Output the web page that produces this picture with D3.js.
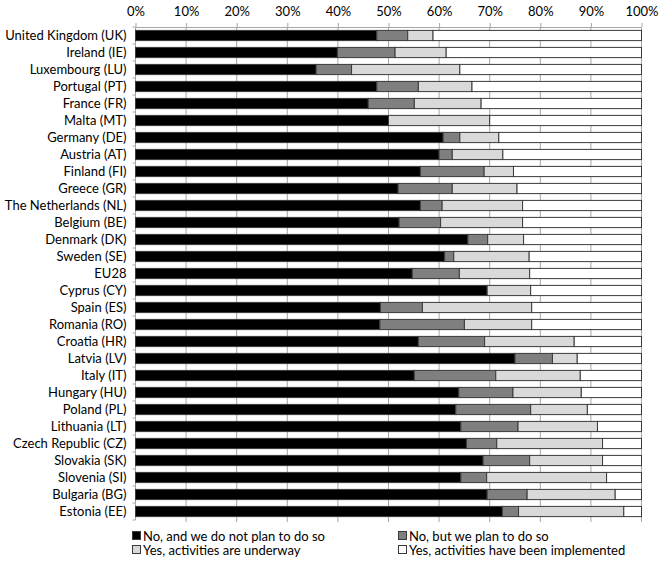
<!DOCTYPE html>
<html>
<head>
<meta charset="utf-8">
<script src="https://cdn.jsdelivr.net/npm/d3@7"></script>
<style>
  body { margin: 0; background: #fff; }
  text { font-family: Lato, sans-serif; fill: #000; }
</style>
</head>
<body>
<div class="canvas"></div>
<script>
// countries, top to bottom
const countries = ['United Kingdom (UK)', 'Ireland (IE)', 'Luxembourg (LU)', 'Portugal (PT)', 'France (FR)',
  'Malta (MT)', 'Germany (DE)', 'Austria (AT)', 'Finland (FI)', 'Greece (GR)', 'The Netherlands (NL)',
  'Belgium (BE)', 'Denmark (DK)', 'Sweden (SE)', 'EU28', 'Cyprus (CY)', 'Spain (ES)', 'Romania (RO)',
  'Croatia (HR)', 'Latvia (LV)', 'Italy (IT)', 'Hungary (HU)', 'Poland (PL)', 'Lithuania (LT)',
  'Czech Republic (CZ)', 'Slovakia (SK)', 'Slovenia (SI)', 'Bulgaria (BG)', 'Estonia (EE)'];

// shares in %, one value per country
const noNoPlan = [47.7, 39.9, 35.7, 47.7, 46.0, 50.0, 60.8, 60.0, 56.3, 51.9, 56.3, 52.1, 65.7, 61.1, 54.7,
  69.5, 48.4, 48.3, 55.9, 75.0, 55.1, 63.9, 63.3, 64.3, 65.4, 68.7, 64.3, 69.5, 72.5];
const noButPlan = [6.1, 11.4, 7.0, 8.2, 9.1, 0, 3.3, 2.6, 12.6, 10.7, 4.3, 8.2, 3.9, 1.8, 9.3,
  0, 8.3, 16.7, 13.1, 7.4, 16.1, 10.7, 14.8, 11.3, 6.0, 9.2, 5.1, 7.9, 3.2];
const underway = [5.0, 10.1, 21.4, 10.6, 13.2, 20.0, 7.7, 10.0, 5.8, 12.8, 15.9, 16.2, 7.1, 14.9, 13.9,
  8.6, 21.6, 13.3, 17.7, 4.9, 16.7, 13.5, 11.2, 15.7, 20.9, 14.4, 23.7, 17.4, 20.8];
const xTicks = [0, 10, 20, 30, 40, 50, 60, 70, 80, 90, 100];

const seriesNames = ['No, and we do not plan to do so', 'No, but we plan to do so',
  'Yes, activities are underway', 'Yes, activities have been implemented'];
const colours = ['#000000', '#7f7f7f', '#d9d9d9', '#ffffff'];

const data = countries.map((c, i) => ({
  country: c,
  a: noNoPlan[i],
  b: noButPlan[i],
  c: underway[i],
  d: 100 - noNoPlan[i] - noButPlan[i] - underway[i]
}));

const svg = d3.select('.canvas')
  .append('svg')
    .attr('width', 660)
    .attr('height', 568);

const margin = {top: 27, left: 135.5};
const graphWidth = 506;
const graphHeight = 17 * countries.length;

const graph = svg.append('g')
  .attr('transform', `translate(${margin.left}, ${margin.top})`);

const x = d3.scaleLinear().domain([0, 100]).range([0, graphWidth]);
const y = d3.scaleBand().domain(countries).range([0, graphHeight]).paddingInner(0.4).paddingOuter(0.2);

// vertical gridlines
graph.append('g').selectAll('line')
  .data(xTicks.slice(1))
  .enter().append('line')
    .attr('x1', d => x(d)).attr('x2', d => x(d))
    .attr('y1', 0).attr('y2', graphHeight + 2)
    .attr('stroke', '#a6a6a6')
    .attr('stroke-width', 1);

// top axis
const xAxisGroup = graph.append('g');
xAxisGroup.call(d3.axisTop(x).tickValues(xTicks).tickFormat(d => d + '%').tickSize(4).tickSizeOuter(0));
xAxisGroup.select('.domain').attr('stroke', '#a6a6a6');
xAxisGroup.selectAll('.tick line').attr('stroke', '#a6a6a6');
xAxisGroup.selectAll('text')
  .attr('font-size', 13)
  .attr('font-family', 'Lato, sans-serif')
  .attr('y', -11);

// left axis with ticks between categories
const yAxisGroup = graph.append('g');
yAxisGroup.append('line')
  .attr('x1', 0).attr('x2', 0).attr('y1', 0).attr('y2', graphHeight)
  .attr('stroke', '#a6a6a6');
yAxisGroup.selectAll('.sep')
  .data(d3.range(countries.length + 1))
  .enter().append('line')
    .attr('x1', -3).attr('x2', 0)
    .attr('y1', d => d * 17).attr('y2', d => d * 17)
    .attr('stroke', '#a6a6a6');
yAxisGroup.selectAll('.label')
  .data(countries)
  .enter().append('text')
    .attr('x', -9)
    .attr('y', d => y(d) + y.bandwidth() / 2)
    .attr('dy', '0.35em')
    .attr('text-anchor', 'end')
    .attr('font-size', 13)
    .text(d => d);

// stacked bars
const stack = d3.stack().keys(['a', 'b', 'c', 'd']);
const layers = stack(data);

graph.selectAll('.layer')
  .data(layers)
  .enter().append('g')
    .attr('fill', (d, i) => colours[i])
  .selectAll('rect')
  .data(d => d)
  .enter().append('rect')
    .attr('x', d => x(d[0]))
    .attr('y', d => y(d.data.country))
    .attr('width', d => x(d[1]) - x(d[0]))
    .attr('height', y.bandwidth())
    .attr('stroke', d => (d[1] - d[0]) > 0 ? '#3a3a3a' : 'none')
    .attr('stroke-width', 1);

// legend
const legendPos = [[132, 536], [398, 536], [132, 550], [398, 550]];
const legend = svg.append('g');
const items = legend.selectAll('g')
  .data(seriesNames)
  .enter().append('g')
    .attr('transform', (d, i) => `translate(${legendPos[i][0]}, ${legendPos[i][1]})`);
items.append('rect')
  .attr('x', 0.5).attr('y', -4.5)
  .attr('width', 8).attr('height', 8)
  .attr('fill', (d, i) => colours[i])
  .attr('stroke', '#3a3a3a');
items.append('text')
  .attr('x', 11)
  .attr('dy', '0.35em')
  .attr('font-size', 13)
  .text(d => d);
</script>
</body>
</html>
